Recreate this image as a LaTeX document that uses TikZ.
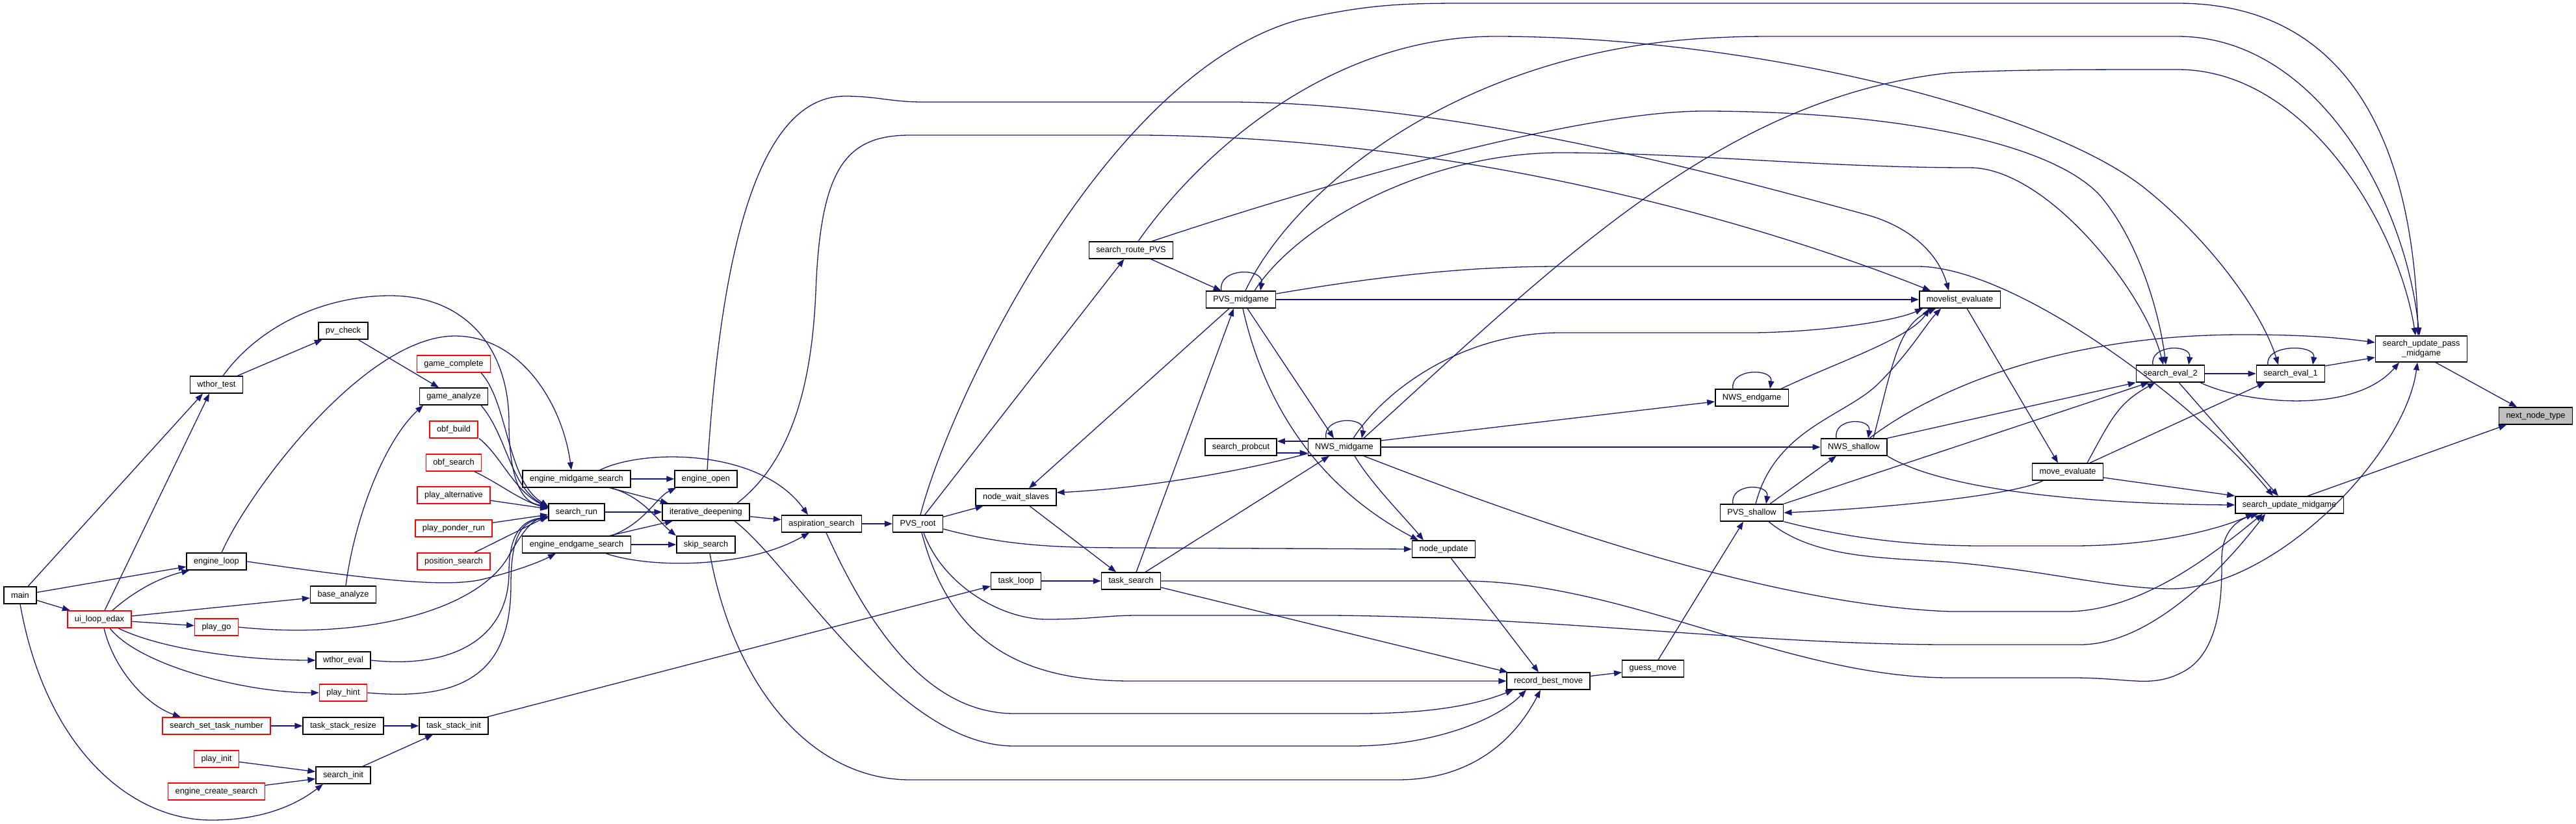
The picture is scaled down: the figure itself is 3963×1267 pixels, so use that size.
\documentclass[tikz,border=0pt]{standalone}
\usepackage{fontspec}
\setmainfont{Liberation Sans}
\usetikzlibrary{arrows.meta}
\definecolor{edgeblue}{HTML}{191970}
\definecolor{nodered}{HTML}{FF0000}
\definecolor{nodegrey}{HTML}{BFBFBF}
\tikzset{
  >={Triangle[length=12pt,width=9pt]},
  % noder
  fnode/.style={draw=black,fill=white,line width=1.4pt,minimum height=26pt,
                inner xsep=11pt,inner ysep=0pt,font=\fontsize{12.8}{15}\selectfont},
  fnred/.style={fnode,draw=nodered},
  fngrey/.style={fnode,fill=nodegrey},
  % kanter
  call/.style={->,draw=edgeblue,line width=1.3pt},
}
\begin{document}
\begin{tikzpicture}[x=1pt,y=-1pt]
  \useasboundingbox (0,0) rectangle (3963,1267);
  % kolumn 1-3
  \node[fnode] (main) at (31,916) {main};
  \node[fnred] (uiloop) at (153,953) {ui\_loop\_edax};
  \node[fnode] (wthortest) at (333,592) {wthor\_test};
  \node[fnode] (engineloop) at (333,864) {engine\_loop};
  \node[fnred] (playgo) at (333,965) {play\_go};
  \node[fnred] (setnum) at (333,1117) {search\_set\_task\_number};
  \node[fnred] (playinit) at (333,1168) {play\_init};
  \node[fnred] (createsearch) at (333,1218) {engine\_create\_search};
  \node[fnode] (pvcheck) at (528,509) {pv\_check};
  \node[fnode] (baseanalyze) at (528,915) {base\_analyze};
  \node[fnode] (wthoreval) at (528,1016) {wthor\_eval};
  \node[fnred] (playhint) at (528,1066) {play\_hint};
  \node[fnode] (stackresize) at (528,1117) {task\_stack\_resize};
  \node[fnode] (searchinit) at (528,1193) {search\_init};
  \node[fnred] (gamecomplete) at (698,560) {game\_complete};
  \node[fnode] (gameanalyze) at (698,610) {game\_analyze};
  \node[fnred] (obfbuild) at (698,661) {obf\_build};
  \node[fnred] (obfsearch) at (698,712) {obf\_search};
  \node[fnred] (playalt) at (698,762) {play\_alternative};
  \node[fnred] (ponder) at (698,813) {play\_ponder\_run};
  \node[fnred] (possearch) at (698,864) {position\_search};
  \node[fnode] (stackinit) at (698,1117) {task\_stack\_init};
  % kolumn 4-8
  \node[fnode] (midsearch) at (887,737) {engine\_midgame\_search};
  \node[fnode] (searchrun) at (887,788) {search\_run};
  \node[fnode] (endsearch) at (887,838) {engine\_endgame\_search};
  \node[fnode] (engineopen) at (1086,737) {engine\_open};
  \node[fnode] (iterdeep) at (1086,788) {iterative\_deepening};
  \node[fnode] (skipsearch) at (1086,838) {skip\_search};
  \node[fnode] (aspiration) at (1264,806) {aspiration\_search};
  \node[fnode] (pvsroot) at (1412,806) {PVS\_root};
  \node[fnode] (waitslaves) at (1563,765) {node\_wait\_slaves};
  \node[fnode] (taskloop) at (1563,894) {task\_loop};
  \node[fnode] (routepvs) at (1740,385) {search\_route\_PVS};
  \node[fnode] (tasksearch) at (1740,894) {task\_search};
  % kolumn 9-
  \node[fnode] (pvsmid) at (1909,461) {PVS\_midgame};
  \node[fnode] (probcut) at (1909,688) {search\_probcut};
  \node[fnode] (nwsmid) at (2068,688) {NWS\_midgame};
  \node[fnode] (nodeupdate) at (2221,845) {node\_update};
  \node[fnode] (bestmove) at (2382,1048) {record\_best\_move};
  \node[fnode] (guessmove) at (2543,1029) {guess\_move};
  \node[fnode] (nwsend) at (2695,612) {NWS\_endgame};
  \node[fnode] (pvsshallow) at (2695,789) {PVS\_shallow};
  \node[fnode] (nwsshallow) at (2852,688) {NWS\_shallow};
  \node[fnode] (movelisteval) at (3015,461) {movelist\_evaluate};
  \node[fnode] (moveeval) at (3181,726) {move\_evaluate};
  \node[fnode] (evaltwo) at (3339,575) {search\_eval\_2};
  \node[fnode] (evalone) at (3524,575) {search\_eval\_1};
  \node[fnode,minimum height=40pt,align=center] (updatepass) at (3725,537) {search\_update\_pass\\\_midgame};
  \node[fnode] (updatemid) at (3522,777) {search\_update\_midgame};
  \node[fngrey] (nextnode) at (3901,640) {next\_node\_type};

  % main, ui_loop_edax
  \draw[call] (main) -- (uiloop);
  \draw[call] (main) -- (engineloop);
  \draw[call] ([xshift=12]main.north) -- ([xshift=-21]wthortest.south);
  \draw[call] (main.south) .. controls (70,1150) and (200,1262) .. (325,1262)
    .. controls (410,1262) and (460,1235) .. ([xshift=-31]searchinit.south);
  \draw[call] ([xshift=8]uiloop.north) -- ([xshift=-11]wthortest.south);
  \draw[call] ([xshift=20]uiloop.north) .. controls (200,915) and (240,890) .. ([xshift=5]engineloop.south west);
  \draw[call] (uiloop) -- (baseanalyze);
  \draw[call] (uiloop) -- (playgo);
  \draw[call] ([xshift=29]uiloop.south) .. controls (250,1000) and (380,1016) .. (wthoreval.west);
  \draw[call] ([xshift=16]uiloop.south) .. controls (215,1025) and (380,1066) .. (playhint.west);
  \draw[call] ([xshift=7]uiloop.south) .. controls (175,1030) and (225,1085) .. ([xshift=-55]setnum.north);
  \draw[call] (wthortest) -- (pvcheck);
  \draw[call] ([xshift=10]wthortest.north) .. controls (400,500) and (500,455) .. (600,455)
    .. controls (720,455) and (783,540) .. (783,650) .. controls (783,730) and (800,775) .. ([yshift=10]searchrun.west);
  \draw[call] (pvcheck) -- (gameanalyze);
  \draw[call] ([xshift=8]engineloop.north) .. controls (380,760) and (560,517) .. (700,517)
    .. controls (800,517) and (865,620) .. ([xshift=-8]midsearch.north);
  \draw[call] (engineloop.east) .. controls (560,890) and (680,905) .. (740,892)
    .. controls (790,880) and (830,865) .. ([xshift=-32]endsearch.south);
  \draw[call] ([xshift=4]baseanalyze.north) .. controls (545,800) and (590,680) .. ([xshift=-47]gameanalyze.south);
  % callers of search_run
  \draw[call] (playgo.east) .. controls (560,985) and (730,940) .. (780,860)
    .. controls (805,815) and (820,800) .. ([yshift=-7]searchrun.west);
  \draw[call] (wthoreval.east) .. controls (700,1030) and (783,980) .. (783,880)
    .. controls (783,820) and (805,800) .. ([yshift=-8]searchrun.west);
  \draw[call] (playhint.east) .. controls (720,1080) and (786,1030) .. (786,900)
    .. controls (786,820) and (805,802) .. ([yshift=-9]searchrun.west);
  \draw[call] ([xshift=42]gamecomplete.south) .. controls (782,620) and (780,740) .. ([yshift=9]searchrun.west);
  \draw[call] ([xshift=42]gameanalyze.south) .. controls (780,670) and (785,750) .. ([yshift=8]searchrun.west);
  \draw[call] ([xshift=39]obfbuild.south) .. controls (770,700) and (790,755) .. ([yshift=7]searchrun.west);
  \draw[call] ([xshift=32]obfsearch.south) .. controls (770,745) and (800,770) .. ([yshift=6]searchrun.west);
  \draw[call] (playalt) -- ([yshift=5]searchrun.west);
  \draw[call] (ponder) -- ([yshift=-4]searchrun.west);
  \draw[call] ([xshift=32]possearch.north) -- ([yshift=-6]searchrun.west);
  % task stack
  \draw[call] (setnum) -- (stackresize);
  \draw[call] (stackresize) -- (stackinit);
  \draw[call] (playinit) -- (searchinit);
  \draw[call] (createsearch) -- (searchinit);
  \draw[call] ([xshift=30]searchinit.north) -- ([xshift=-32]stackinit.south);
  \draw[call] ([xshift=51]stackinit.north) -- ([yshift=-8]taskloop.west);
  % engine_*_search
  \draw[call] (searchrun) -- (iterdeep);
  \draw[call] (midsearch) -- (engineopen);
  \draw[call] ([xshift=51]midsearch.south) -- ([xshift=-58]iterdeep.north);
  \draw[call] ([xshift=53]midsearch.south) .. controls (990,765) and (1010,800) .. ([xshift=-46]skipsearch.north);
  \draw[call] ([xshift=36]midsearch.north) .. controls (990,690) and (1170,690) .. ([xshift=-21]aspiration.north);
  \draw[call] (endsearch) -- (skipsearch);
  \draw[call] ([xshift=51]endsearch.north) -- ([xshift=-51]iterdeep.south);
  \draw[call] ([xshift=53]endsearch.north) .. controls (990,807) and (1010,765) .. ([xshift=-46]engineopen.south);
  \draw[call] ([xshift=45]endsearch.south) .. controls (1000,875) and (1150,875) .. ([xshift=-19]aspiration.south);
  \draw[call] (iterdeep) -- (aspiration);
  \draw[call] (aspiration) -- (pvsroot);
  % long ones to movelist_evaluate and record_best_move
  \draw[call] ([xshift=2]engineopen.north) .. controls (1105,450) and (1150,148) .. (1300,148)
    .. controls (1350,148) and (1370,157) .. (1420,157) -- (1900,157)
    .. controls (2250,160) and (2650,270) .. (2870,330) .. controls (2950,352) and (2985,400) .. ([xshift=-17]movelisteval.north);
  \draw[call] ([xshift=48]iterdeep.north) .. controls (1230,700) and (1250,560) .. (1255,450)
    .. controls (1262,260) and (1300,208) .. (1400,208) -- (1760,208)
    .. controls (2250,212) and (2700,340) .. ([xshift=-45]movelisteval.north);
  \draw[call] ([xshift=44]iterdeep.south) .. controls (1220,870) and (1380,1148) .. (1560,1148) -- (2080,1148)
    .. controls (2200,1148) and (2300,1110) .. ([xshift=-34]bestmove.south);
  \draw[call] ([xshift=6]skipsearch.south) .. controls (1130,1060) and (1250,1200) .. (1400,1200) -- (2150,1200)
    .. controls (2280,1200) and (2340,1120) .. ([xshift=-12]bestmove.south);
  \draw[call] ([xshift=7]aspiration.south) .. controls (1330,950) and (1420,1098) .. (1560,1098) -- (2090,1098)
    .. controls (2200,1098) and (2270,1085) .. ([xshift=-54]bestmove.south);
  % PVS_root
  \draw[call] ([xshift=6]pvsroot.south) .. controls (1460,980) and (1560,1048) .. (1740,1048) -- (bestmove.west);
  \draw[call] ([xshift=9]pvsroot.south) .. controls (1450,900) and (1540,953) .. (1610,953)
    .. controls (1680,953) and (1700,947) .. (1750,947) -- (2050,947)
    .. controls (2400,950) and (2700,992) .. (3000,992) -- (3200,992)
    .. controls (3320,992) and (3440,850) .. ([xshift=-37]updatemid.south);
  \draw[call] ([yshift=-8]pvsroot.east) .. controls (1550,840) and (1620,843) .. (1750,843) -- (nodeupdate.west);
  \draw[call] (pvsroot) -- (waitslaves);
  \draw[call] (pvsroot) -- (routepvs);
  \draw[call] ([xshift=4]pvsroot.north) .. controls (1460,620) and (1700,110) .. (2000,30)
    .. controls (2100,8) and (2150,5) .. (2250,5) -- (3350,5)
    .. controls (3600,5) and (3712,200) .. ([xshift=-5]updatepass.north);
  % search_route_PVS
  \draw[call] (routepvs) -- (pvsmid);
  \draw[call] ([xshift=11]routepvs.north) .. controls (1850,230) and (2050,56) .. (2300,56)
    .. controls (2700,56) and (3150,170) .. (3300,290) .. controls (3400,370) and (3480,480) .. ([xshift=-19]evalone.north);
  \draw[call] ([xshift=32]routepvs.north) .. controls (2100,262) and (2450,171) .. (2620,171)
    .. controls (2900,171) and (3150,215) .. (3230,300) .. controls (3290,370) and (3322,480) .. ([xshift=-7]evaltwo.north);
  % PVS_midgame
  \draw[call] ([xshift=-30]pvsmid.north) .. controls +(-6,-36) and +(6,-36) .. ([xshift=30]pvsmid.north);
  \draw[call] ([xshift=7]pvsmid.north) .. controls (1990,290) and (2250,75) .. (2640,58)
    .. controls (2680,56) and (2700,56) .. (2750,56) -- (3350,56)
    .. controls (3560,56) and (3700,300) .. ([xshift=-3]updatepass.north);
  \draw[call] ([xshift=21]pvsmid.north) .. controls (2000,340) and (2200,235) .. (2400,235)
    .. controls (2600,235) and (2800,258) .. (3030,258) .. controls (3150,258) and (3300,450) .. ([xshift=-11]evaltwo.north);
  \draw[call] (pvsmid) -- (movelisteval);
  \draw[call] ([yshift=9]pvsmid.east) .. controls (2150,420) and (2280,410) .. (2400,410) -- (2950,410)
    .. controls (3100,410) and (3380,620) .. ([xshift=-25]updatemid.north);
  \draw[call] ([xshift=-18]pvsmid.south) -- ([xshift=20]waitslaves.north);
  \draw[call] ([xshift=10]pvsmid.south) -- ([xshift=-16]nwsmid.north);
  \draw[call] ([xshift=3]pvsmid.south) .. controls (1940,600) and (2010,740) .. ([xshift=-39]nodeupdate.north);
  % task_search, node_wait_slaves
  \draw[call] ([xshift=8]tasksearch.north) -- ([xshift=-11]pvsmid.south);
  \draw[call] ([xshift=22]tasksearch.north) -- ([xshift=-23]nwsmid.south);
  \draw[call] ([yshift=-10]tasksearch.east) -- ([xshift=2]bestmove.north west);
  \draw[call] (tasksearch.east) -- (2250,894) .. controls (2500,894) and (2750,1043) .. (3000,1043) -- (3190,1043)
    .. controls (3280,1043) and (3310,1060) .. (3360,1033) .. controls (3420,1000) and (3418,900) .. (3418,860)
    .. controls (3418,820) and (3440,800) .. ([xshift=-48]updatemid.south);
  \draw[call] ([xshift=21]waitslaves.south) -- ([xshift=-23]tasksearch.north);
  \draw[call] (taskloop) -- (tasksearch);
  % NWS_midgame
  \draw[call] ([yshift=-10]nwsmid.west) .. controls (1900,728) and (1750,752) .. ([yshift=7]waitslaves.east);
  \draw[call] ([yshift=9]nwsmid.west) -- ([yshift=9]probcut.east);
  \draw[call] ([yshift=-9]probcut.east) -- ([yshift=-9]nwsmid.west);
  \draw[call] ([xshift=-28]nwsmid.north) .. controls +(-6,-34) and +(6,-34) .. ([xshift=27]nwsmid.north);
  \draw[call] ([xshift=16]nwsmid.south) .. controls (2110,745) and (2160,795) .. ([xshift=-31]nodeupdate.north);
  \draw[call] ([xshift=30]nwsmid.south) .. controls (2300,780) and (2700,930) .. (3000,941) -- (3180,941)
    .. controls (3300,941) and (3420,840) .. ([xshift=-41]updatemid.south);
  \draw[call] (nwsmid) -- (nwsshallow);
  \draw[call] ([yshift=10]nwsmid.east) -- ([yshift=-6]nwsend.west);
  \draw[call] ([xshift=14]nwsmid.north) .. controls (2130,600) and (2250,512) .. (2400,512) -- (2700,512)
    .. controls (2820,510) and (2920,492) .. ([xshift=6]movelisteval.south west);
  \draw[call] ([xshift=30]nwsmid.north) .. controls (2400,400) and (2650,150) .. (3000,112)
    .. controls (3100,107) and (3200,107) .. (3350,107) .. controls (3550,107) and (3690,350) .. ([xshift=-9]updatepass.north);
  % NWS_endgame, NWS_shallow, PVS_shallow
  \draw[call] ([xshift=-29]nwsend.north) .. controls +(-5,-32) and +(5,-32) .. ([xshift=28]nwsend.north);
  \draw[call] ([xshift=45]nwsend.north) .. controls (2820,560) and (2940,520) .. ([xshift=16]movelisteval.south west);
  \draw[call] ([xshift=-27]nwsshallow.north) .. controls +(-5,-32) and +(5,-32) .. ([xshift=22]nwsshallow.north);
  \draw[call] ([xshift=30]nwsshallow.north) .. controls (2912,560) and (2920,500) .. ([xshift=26]movelisteval.south west);
  \draw[call] ([xshift=24]nwsshallow.north) .. controls (2960,610) and (3150,515) .. (3450,515)
    .. controls (3550,515) and (3600,520) .. ([yshift=10]updatepass.west);
  \draw[call] (nwsshallow.north east) -- (evaltwo.south west);
  \draw[call] (nwsshallow.south east) .. controls (3000,760) and (3250,776) .. (updatemid.west);
  \draw[call] ([xshift=-29]pvsshallow.north) .. controls +(-5,-32) and +(5,-32) .. ([xshift=22]pvsshallow.north);
  \draw[call] ([xshift=28]pvsshallow.north) -- ([xshift=-27]nwsshallow.south);
  \draw[call] ([xshift=6]pvsshallow.north) .. controls (2730,660) and (2840,640) .. (2890,590)
    .. controls (2940,540) and (2962,500) .. ([xshift=34]movelisteval.south west);
  \draw[call] (pvsshallow.north east) -- ([xshift=20]evaltwo.south west);
  \draw[call] (pvsshallow.south east) .. controls (2850,830) and (2950,840) .. (3050,840) -- (3190,840)
    .. controls (3300,840) and (3400,820) .. ([xshift=-55]updatemid.south);
  \draw[call] ([xshift=26]pvsshallow.south) .. controls (2790,860) and (2900,858) .. (3000,865)
    .. controls (3150,878) and (3250,906) .. (3340,906) .. controls (3500,906) and (3700,700) .. ([xshift=-6]updatepass.south);
  \draw[call] ([xshift=-38]moveeval.south) .. controls (3100,762) and (2900,782) .. (pvsshallow.east);
  \draw[call] ([xshift=8]guessmove.north) -- ([xshift=-13]pvsshallow.south);
  \draw[call] (bestmove) -- (guessmove);
  \draw[call] ([xshift=11]nodeupdate.south) -- ([xshift=-15]bestmove.north);
  % move/eval
  \draw[call] ([xshift=11]movelisteval.south) -- ([xshift=-15]moveeval.north);
  \draw[call] ([xshift=30]moveeval.north) .. controls (3250,640) and (3260,620) .. ([xshift=30]evaltwo.south west);
  \draw[call] ([xshift=34]moveeval.north) -- ([xshift=14]evalone.south west);
  \draw[call] ([yshift=-9]moveeval.east) -- ([yshift=14]updatemid.west);
  \draw[call] ([xshift=-27]evaltwo.north) .. controls +(-5,-32) and +(5,-32) .. ([xshift=28]evaltwo.north);
  \draw[call] (evaltwo) -- (evalone);
  \draw[call] ([xshift=46]evaltwo.south) .. controls (3450,620) and (3620,640) .. ([xshift=-34]updatepass.south);
  \draw[call] ([xshift=13]evaltwo.south) -- ([xshift=-17]updatemid.north);
  \draw[call] ([xshift=-35]evalone.north) .. controls +(-5,-32) and +(5,-32) .. ([xshift=34]evalone.north);
  \draw[call] ([yshift=12]evalone.east) -- ([yshift=-13]updatepass.west);
  \draw[call] ([xshift=22]updatepass.south) -- ([xshift=-29]nextnode.north);
  \draw[call] ([xshift=28]updatemid.north) -- ([xshift=-45]nextnode.south);
\end{tikzpicture}
\end{document}
